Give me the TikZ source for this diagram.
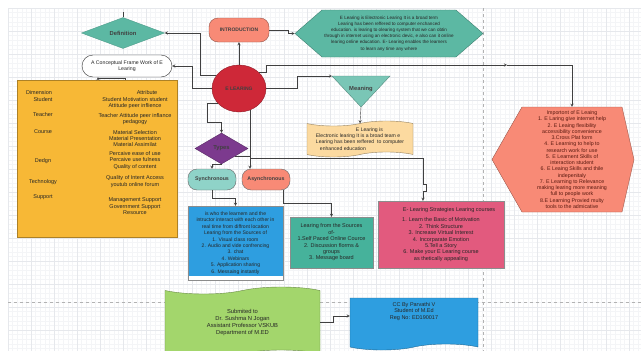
\documentclass[tikz,border=0pt]{standalone}
\usepackage{fontspec}
\setmainfont{Liberation Sans}
\usepackage{tikz}
\usetikzlibrary{arrows,shapes,positioning,calc}
\definecolor{elteal}{RGB}{92,184,163}
\definecolor{ellightteal}{RGB}{143,211,200}
\definecolor{elmint}{RGB}{122,198,182}
\definecolor{elsalmon}{RGB}{248,138,118}
\definecolor{elred}{RGB}{206,40,56}
\definecolor{elorange}{RGB}{247,184,54}
\definecolor{elpurple}{RGB}{124,58,142}
\definecolor{elblue}{RGB}{46,158,224}
\definecolor{elgreen}{RGB}{70,178,155}
\definecolor{elpink}{RGB}{226,90,126}
\definecolor{elcream}{RGB}{252,218,160}
\definecolor{ellime}{RGB}{163,214,108}
\definecolor{elbrown}{RGB}{90,25,15}
\tikzstyle{gridminor} = [draw={rgb,255:red,244;green,245;blue,247}, line width=0.3pt]
\tikzstyle{gridmajor} = [draw={rgb,255:red,230;green,232;blue,236}, line width=0.4pt]
\tikzstyle{guide} = [draw=black!30, dashed, line width=0.6pt]
\tikzstyle{txt} = [font=\fontsize{5.5}{6.4}\selectfont, align=center, inner sep=0pt, text=black!85]
\tikzstyle{title} = [font=\fontsize{5.8}{7}\selectfont\bfseries, text=black!75]
\tikzstyle{pill} = [rectangle, rounded corners=9pt, draw=black!60, thin]
\tikzstyle{card} = [rectangle, draw=black!45, thin]
\tikzstyle{arrow} = [thin,->,>=stealth,color=black!75]

\begin{document}
\begin{tikzpicture}[x=1pt,y=-1pt]
\useasboundingbox (0,0) rectangle (641,351);
\clip (0,0) rectangle (641,351);
\fill[white] (0,0) rectangle (641,351);
\foreach \gx in {8,12.6,...,641} \draw[gridminor] (\gx,8) -- (\gx,351);
\foreach \gy in {8,12.6,...,351} \draw[gridminor] (8,\gy) -- (641,\gy);
\foreach \gx in {8,31,...,641} \draw[gridmajor] (\gx,8) -- (\gx,351);
\foreach \gy in {8,31,...,351} \draw[gridmajor] (8,\gy) -- (641,\gy);
\draw[guide] (483,8) -- (483,351);
\draw[guide] (8,302) -- (641,302);

\node[diamond, fill=elteal, draw=elteal!85!black, minimum width=83pt, minimum height=30pt, inner sep=0pt, title] (def) at (123,33) {Definition};
\coordinate (deftop) at (123,12);
\draw[black!75] (deftop) -- (def.north);

\node[pill, fill=elsalmon, draw=elsalmon!60!black, minimum width=60pt, minimum height=24pt, inner sep=0pt, title, font=\fontsize{5}{6}\selectfont\bfseries] (intro) at (239,30) {INTRODUCTION};

\node[signal, signal to=west and east, signal pointer angle=82, fill=elteal, draw=elteal!70!black, minimum width=188pt, minimum height=47pt, inner sep=0pt, txt, font=\fontsize{4.6}{6.2}\selectfont] (about) at (389,33.5) {E Learing is Electronic Learing It is a broad term\\Learing has been reffered to computer enchanced\\education. is learing to olearing system that we can obtin\\through in internet using an electronic devic, e also can it online\\learing online education. E- Learing enables the learners\\to learn any time any where};

\node[rounded rectangle, fill=white, draw=black!80, minimum width=90pt, minimum height=22pt, inner sep=0pt, txt, font=\fontsize{5.2}{6}\selectfont] (fw) at (127,66) {A Conceptual Frame Work of E\\Learing};

\node[card, fill=elorange, draw=elorange!70!black, minimum width=160pt, minimum height=157pt] (attr) at (97,158.5) {};
\node[txt] (dimhead) at (39,93) {Dimension};
\node[txt] (atthead) at (147,93) {Attribute};
\foreach \dim/\dy/\att/\ay [count=\i] in {Student/100/{Student Motivation student\\Attitude peer inflience}/103, Teacher/115/{Teacher Attitude peer inflance\\pedagogy}/119, Course/132/{Material Selection\\Material Presentation\\Material Assimilat}/138.5, Dedgn/161/{Percaive ease of use\\Percaive use fulness\\Quality of content}/160.5, Technology/182/{Quality of Intent Access\\youtub online forum}/181.5, Support/197/{Management Support\\Government Support\\Resource}/206.5}{
  \node[txt] (dim\i) at (43,\dy) {\dim};
  \node[txt] (att\i) at (135,\ay) {\att};
}

\node[ellipse, fill=elred, draw=elred!70!black, minimum width=54pt, minimum height=47pt, inner sep=0pt, title, font=\fontsize{5}{6}\selectfont\bfseries] (el) at (239,88.5) {E LEARING};

\coordinate (mtl) at (332,76);
\coordinate (mtr) at (390,76);
\coordinate (mtip) at (361,107);
\filldraw[fill=elmint, draw=elmint!70!black, thin] (mtl) -- (mtr) -- (mtip) -- cycle;
\node[title] (meaning) at (361,89) {Meaning};

\node[tape, tape bend top=in and out, tape bend bottom=in and out, tape bend height=5pt, fill=elcream, draw=elcream!60!black, minimum width=106pt, minimum height=36pt, inner sep=0pt, txt, font=\fontsize{5.1}{6.2}\selectfont, align=left] (desc) at (360,139) {\hspace*{40pt}E Learing is\\Electronic learing It is a broad team e\\Learing has been reffered\ \ to computer\\\hspace*{4pt}enhanced education};

\node[diamond, fill=elpurple, draw=elpurple!70!black, minimum width=53pt, minimum height=31pt, inner sep=0pt, title] (types) at (221.5,148.5) {Types};

\node[pill, fill=ellightteal, minimum width=48pt, minimum height=21pt, inner sep=0pt, title, font=\fontsize{5.3}{6}\selectfont\bfseries] (sync) at (212,179.5) {Synchronous};
\node[pill, fill=elsalmon, minimum width=48pt, minimum height=21pt, inner sep=0pt, title, font=\fontsize{5.3}{6}\selectfont\bfseries] (async) at (266,179.5) {Asynchronous};

\node[card, fill=elblue, minimum width=95pt, minimum height=74pt, inner sep=0pt, txt, font=\fontsize{5.1}{6.4}\selectfont, path picture={\fill[white] ([yshift=4pt]path picture bounding box.south west) rectangle (path picture bounding box.south east);}] (syncbox) at (235.5,243) {is who the learnem and the\\intructor interact with each other in\\real time from diffront location\\Learing from the Sources of\\1. Visual class room\\2. Audio and vide confrencing\\3. chat\\4. Webinars\\5. Application sharing\\6. Messaing instantly};

\node[card, fill=elgreen, minimum width=83pt, minimum height=51pt, inner sep=0pt, txt] (asyncbox) at (331.5,242.5) {Learing from the Sources\\of-\\1.Self Paced Online Cource\\2. Discussion florms \&\\groups\\3. Message board};

\node[card, fill=elpink, minimum width=126pt, minimum height=67pt, inner sep=0pt, txt] (strat) at (441,234.5) {\hspace*{16pt}E- Learing Strategies Learing courses\\[4pt]1. Learn the Basic of Motivation\\2. Think Structure\\3. Increase Virtual Interest\\4. Incorparate Emotion\\5.Tell a Story\\6. Make your E Learing course\\as thetically appealing};

\filldraw[fill=elsalmon, draw=elsalmon!65!black, thin] (492,159.5) -- (522,107) -- (622,107) -- (634,159.5) -- (622,212) -- (522,212) -- cycle;
\node[txt, text=elbrown, font=\fontsize{5.3}{6.25}\selectfont, minimum width=100pt, minimum height=105pt] (imp) at (572,159.5) {Importont of E Leaing\\1. E Laring give internet help\\2. E Leaing flexibility\\accessibility convenience\\3.Cross Plat form\\4. E Learning to help to\\research work for use\\5. E Learnent Skills of\\interaction student\\6. E Leaing Skills and thile\\indepenitaly\\7. E Learning to Relevance\\making learing more meaning\\full to people work\\8.E Learning Provied multy\\tools to the admicative};

\node[tape, tape bend top=in and out, tape bend bottom=in and out, tape bend height=7pt, fill=ellime, draw=ellime!65!black, minimum width=155pt, minimum height=70pt, inner sep=0pt, txt, font=\fontsize{5.8}{7}\selectfont] (sub) at (242.5,322) {Submited to\\Dr. Sushma N Jogan\\Assistant Professor VSKUB\\Department of M.ED};

\node[tape, tape bend top=none, tape bend bottom=in and out, tape bend height=6pt, fill=elblue, draw=elblue!65!black, minimum width=128pt, minimum height=52pt, inner sep=0pt, txt] (cc) at (414,321) {CC By Parvathi V\\Student of M.Ed\\Reg No: ED190017\\[14pt]~};

\coordinate (mid) at (507,65);
\draw[arrow] (el.north) -- (el.north |- intro.south);
\draw[arrow] (intro.east) -- ++(19,0) |- (about.west);
\draw[arrow] (el.150) -- ++(-16,0) |- (def.east);
\draw[arrow] (el.west) -- ++(-20,0) |- (fw.east);
\draw[arrow] ([xshift=28pt]attr.north) -- ++(0,-2) -| ([xshift=-29pt]fw.south);
\draw[arrow] (el.40) -- ++(8,0) |- (mid);
\draw[arrow] (mid) -| (imp.north);
\draw[arrow] (el.east) -- ++(31,0) |- (mtl);
\draw[arrow] (mtip) -- (desc.north);
\draw[arrow] (el.215) -- ++(-11,0) -- ++(0,19) -| (types.north);
\draw[arrow] (el.297) |- ($(strat.north)+(-18,-43)$) -- ++(0,26) -- ++(3,0) -- ++(0,7) -- ++(-3,0) -- ([xshift=-18pt]strat.north);
\draw[arrow] (types.south) -| (sync.north);
\draw[arrow] (types.south east) -| ([xshift=-16pt]async.north);
\draw[arrow] (sync.south) -- ++(0,8) -| (syncbox.north);
\draw[arrow] ([xshift=17pt]async.south) -- ++(0,13) -| (asyncbox.north);
\draw[arrow] (sub.east) -- ++(13,0) |- ([yshift=5pt]cc.west);
\end{tikzpicture}
\end{document}
